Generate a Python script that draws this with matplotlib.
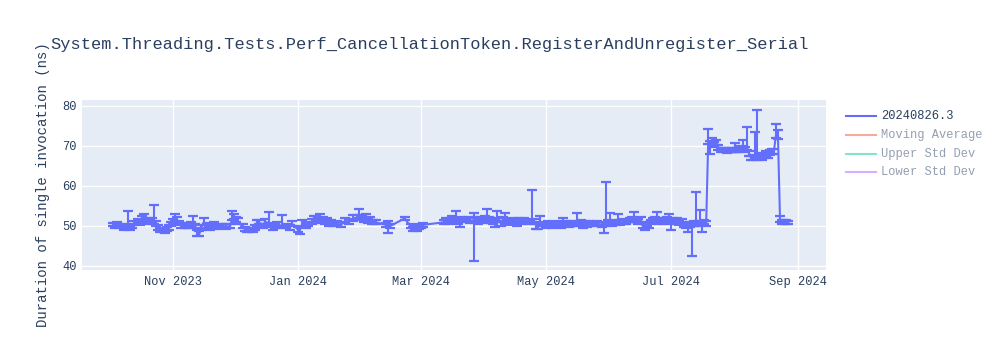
import matplotlib
matplotlib.use("Agg")
import matplotlib.pyplot as plt
from matplotlib.lines import Line2D
import numpy as np
import datetime as dt

title = "System.Threading.Tests.Perf_CancellationToken.RegisterAndUnregister_Serial"
ylabel = "Duration of single invocation (ns)"
legend_labels = ["20240826.3", "Moving Average", "Upper Std Dev", "Lower Std Dev"]
legend_colors = ["#636EFA", "#EF553B", "#00CC96", "#AB63FA"]
legend_visible = [True, False, False, False]

dates = [
 "2023-10-03","2023-10-04","2023-10-05","2023-10-06","2023-10-08","2023-10-09","2023-10-10","2023-10-11","2023-10-12","2023-10-13",
 "2023-10-15","2023-10-16","2023-10-17","2023-10-18","2023-10-20","2023-10-21","2023-10-22","2023-10-23","2023-10-24","2023-10-25",
 "2023-10-26","2023-10-27","2023-10-28","2023-10-29","2023-10-30","2023-10-31","2023-11-01","2023-11-02","2023-11-03","2023-11-04",
 "2023-11-05","2023-11-07","2023-11-08","2023-11-09","2023-11-10","2023-11-11","2023-11-12","2023-11-13","2023-11-14","2023-11-15",
 "2023-11-16","2023-11-17","2023-11-18","2023-11-19","2023-11-21","2023-11-22","2023-11-24","2023-11-25","2023-11-27","2023-11-29",
 "2023-11-30","2023-12-01","2023-12-02","2023-12-03","2023-12-05","2023-12-06","2023-12-07","2023-12-08","2023-12-10","2023-12-11",
 "2023-12-12","2023-12-13","2023-12-15","2023-12-16","2023-12-18","2023-12-19","2023-12-20","2023-12-21","2023-12-22","2023-12-24",
 "2023-12-26","2023-12-28","2023-12-29","2024-01-01","2024-01-02","2024-01-03","2024-01-05","2024-01-06","2024-01-08","2024-01-09",
 "2024-01-10","2024-01-11","2024-01-12","2024-01-13","2024-01-14","2024-01-15","2024-01-16","2024-01-17","2024-01-18","2024-01-20",
 "2024-01-22","2024-01-24","2024-01-26","2024-01-28","2024-01-30","2024-01-31","2024-02-01","2024-02-02","2024-02-03","2024-02-04",
 "2024-02-05","2024-02-06","2024-02-07","2024-02-08","2024-02-13","2024-02-14","2024-02-15","2024-02-22","2024-02-25","2024-02-26",
 "2024-02-27","2024-02-28","2024-02-29","2024-03-01","2024-03-02","2024-03-12","2024-03-13","2024-03-14","2024-03-15","2024-03-16",
 "2024-03-17","2024-03-18","2024-03-19","2024-03-20","2024-03-21","2024-03-22","2024-03-24","2024-03-25","2024-03-27","2024-03-28",
 "2024-03-29","2024-03-30","2024-03-31","2024-04-01","2024-04-02","2024-04-03","2024-04-04","2024-04-05","2024-04-06","2024-04-07",
 "2024-04-08","2024-04-09","2024-04-10","2024-04-11","2024-04-12","2024-04-13","2024-04-14","2024-04-15","2024-04-16","2024-04-17",
 "2024-04-18","2024-04-19","2024-04-20","2024-04-22","2024-04-24","2024-04-25","2024-04-26","2024-04-27","2024-04-28","2024-04-30",
 "2024-05-01","2024-05-02","2024-05-03","2024-05-04","2024-05-05","2024-05-06","2024-05-07","2024-05-08","2024-05-09","2024-05-10",
 "2024-05-11","2024-05-12","2024-05-13","2024-05-14","2024-05-16","2024-05-17","2024-05-18","2024-05-19","2024-05-20","2024-05-21",
 "2024-05-22","2024-05-24","2024-05-26","2024-05-28","2024-05-29","2024-05-30","2024-05-31","2024-06-01","2024-06-02","2024-06-03",
 "2024-06-04","2024-06-05","2024-06-06","2024-06-08","2024-06-09","2024-06-11","2024-06-12","2024-06-13","2024-06-14","2024-06-15",
 "2024-06-16","2024-06-17","2024-06-18","2024-06-19","2024-06-20","2024-06-21","2024-06-22","2024-06-23","2024-06-24","2024-06-25",
 "2024-06-26","2024-06-27","2024-06-28","2024-06-29","2024-06-30","2024-07-01","2024-07-02","2024-07-03","2024-07-04","2024-07-05",
 "2024-07-06","2024-07-07","2024-07-08","2024-07-09","2024-07-10","2024-07-11","2024-07-12","2024-07-13","2024-07-14","2024-07-15",
 "2024-07-16","2024-07-17","2024-07-18","2024-07-19","2024-07-20","2024-07-21","2024-07-22","2024-07-23","2024-07-24","2024-07-25",
 "2024-07-26","2024-07-27","2024-07-28","2024-07-29","2024-07-30","2024-07-31","2024-08-01","2024-08-02","2024-08-03","2024-08-04",
 "2024-08-05","2024-08-06","2024-08-07","2024-08-08","2024-08-09","2024-08-10","2024-08-11","2024-08-12","2024-08-13","2024-08-14",
 "2024-08-15","2024-08-16","2024-08-17","2024-08-18","2024-08-19","2024-08-20","2024-08-21","2024-08-22","2024-08-23","2024-08-24",
 "2024-08-25","2024-08-26","2024-08-27",
]

values = [
 50.2,50.0,50.4,50.1,49.6,49.9,50.3,49.5,49.8,50.6,
 51.0,50.7,51.2,51.5,51.3,51.0,51.4,51.0,50.5,49.5,
 48.8,48.9,48.6,49.2,49.5,50.3,51.0,51.8,51.5,50.6,
 50.0,49.8,50.0,49.8,50.4,51.0,49.8,48.2,48.0,49.5,
 50.8,49.6,50.0,49.5,50.2,49.6,49.8,50.0,49.7,49.9,
 52.0,52.3,51.5,51.0,49.8,49.2,48.8,49.0,48.8,49.5,
 50.3,50.8,50.0,51.0,50.5,50.2,49.5,49.8,50.2,50.0,
 49.8,49.5,50.5,49.0,49.2,50.2,49.8,50.3,51.0,51.5,
 51.7,51.2,51.8,51.5,50.8,51.2,50.5,51.0,50.3,50.5,
 50.2,51.2,51.0,51.8,52.0,52.2,52.0,51.5,52.2,51.2,
 51.5,50.8,51.0,50.8,50.2,49.5,49.9,51.8,49.8,49.2,
 49.6,49.2,49.7,50.0,50.2,50.8,51.2,51.0,51.4,51.6,
 51.2,51.5,51.0,50.8,51.5,51.3,51.6,51.2,51.3,51.5,
 51.0,51.6,51.2,51.8,52.2,51.5,51.2,51.0,50.8,51.8,
 51.3,50.5,51.5,51.3,50.8,51.0,50.6,51.2,51.0,50.5,
 51.3,51.0,51.2,50.8,51.3,51.0,50.2,49.8,50.6,50.3,
 50.0,50.5,50.2,50.0,50.4,50.2,50.6,50.0,50.4,50.3,
 50.6,50.2,50.5,50.3,50.8,50.5,50.9,50.3,50.6,50.2,
 50.5,50.3,50.5,50.2,49.5,50.5,50.8,51.0,50.5,50.8,
 50.6,51.0,50.7,51.0,50.8,51.3,51.5,51.6,51.3,51.0,
 51.5,50.0,49.8,50.3,50.0,50.8,51.2,51.5,51.3,51.0,
 51.4,50.9,51.2,51.5,51.0,50.2,51.2,50.8,51.3,50.6,
 51.0,50.2,50.0,49.8,50.2,49.5,50.5,50.8,50.5,50.3,
 50.2,50.8,50.5,71.0,70.5,71.2,70.2,70.8,69.5,69.0,
 68.8,69.0,68.7,68.9,68.8,69.0,68.9,68.8,69.0,69.2,
 69.2,69.0,69.5,68.0,66.8,67.0,67.5,67.0,67.5,67.0,
 67.3,68.0,67.5,68.2,68.5,68.5,72.5,72.2,51.5,51.0,
 50.8,50.9,50.7,
]

err_up = [
 0.5,0.6,0.5,0.4,0.5,0.6,3.4,0.5,0.6,0.6,
 0.7,0.6,1.2,1.4,0.6,0.7,0.6,4.1,0.6,0.6,
 0.6,0.5,0.5,0.5,0.6,0.6,0.7,1.0,0.6,0.6,
 0.6,0.5,0.6,0.5,0.6,1.4,0.6,0.6,0.6,0.6,
 1.1,0.5,0.6,0.5,0.6,0.5,0.6,0.5,0.6,0.6,
 1.7,0.6,0.6,1.0,0.6,0.5,0.5,0.5,0.5,0.6,
 1.2,0.6,0.5,0.6,3.0,0.5,0.6,0.5,0.6,2.7,
 0.5,0.6,0.6,0.6,0.6,1.3,0.6,0.6,0.6,0.8,
 0.6,0.6,1.1,0.6,0.6,0.6,0.6,0.5,0.6,0.6,
 0.6,0.7,0.6,0.9,0.6,1.9,0.6,0.6,0.6,0.6,
 0.6,0.6,0.5,0.5,0.5,1.6,0.5,0.4,0.5,0.5,
 0.5,0.5,0.5,0.5,0.5,0.6,0.6,0.6,0.6,0.7,
 0.6,2.2,0.6,0.6,0.6,0.6,0.6,0.6,1.9,0.6,
 0.6,0.6,0.6,0.6,1.9,0.6,0.6,0.6,0.6,1.9,
 0.6,0.6,0.6,1.9,0.6,0.6,0.6,0.6,0.6,0.6,
 0.6,0.6,0.6,0.6,7.6,0.6,0.6,0.6,1.9,0.6,
 0.6,0.6,0.6,0.6,0.6,0.6,0.6,0.6,1.6,0.6,
 0.6,0.6,0.6,0.6,2.4,0.6,0.6,0.6,0.6,0.6,
 0.6,0.6,0.6,0.6,0.6,10.5,0.6,2.1,0.6,0.6,
 0.6,1.9,0.6,0.6,0.6,0.6,0.7,1.9,0.6,0.6,
 0.6,0.6,0.6,0.6,0.6,0.6,0.6,0.6,2.0,0.6,
 0.6,0.6,0.6,0.6,2.0,0.6,0.6,0.6,0.6,0.6,
 0.6,0.6,0.6,0.6,0.6,0.6,0.6,7.6,0.6,3.6,
 0.6,0.6,0.6,3.1,0.6,0.8,0.6,0.6,0.6,0.5,
 0.5,0.5,0.5,0.5,0.5,0.5,1.8,0.5,0.5,0.6,
 2.2,0.6,5.2,0.6,0.6,0.6,5.8,12.0,0.6,0.6,
 0.6,0.6,0.6,0.6,0.6,0.6,2.8,1.6,0.8,0.5,
 0.5,0.4,0.4,
]

err_down = [
 0.4,0.5,0.5,0.6,0.6,0.7,0.8,0.6,0.5,0.5,
 0.6,0.5,0.6,0.7,0.5,0.6,0.5,0.6,0.5,0.5,
 0.5,0.5,0.4,0.5,0.5,0.5,0.6,0.6,0.5,0.5,
 0.5,0.5,0.5,0.5,0.5,0.6,0.5,0.9,0.6,0.5,
 0.6,0.5,0.5,0.5,0.5,0.5,0.5,0.5,0.5,0.5,
 0.6,0.6,0.5,0.6,0.5,0.5,0.5,0.6,0.5,0.5,
 0.5,0.5,0.5,0.6,0.6,0.5,0.5,0.5,0.5,0.5,
 0.5,0.5,0.5,0.6,1.2,0.5,0.5,0.5,0.5,0.6,
 0.6,0.5,0.6,0.5,0.5,0.5,0.5,0.5,0.5,0.5,
 0.5,0.5,0.5,0.6,0.6,0.6,0.6,0.6,0.6,0.5,
 0.5,0.5,0.5,0.5,0.5,1.3,0.6,0.5,0.5,0.5,
 0.5,0.5,0.5,0.5,0.5,0.5,0.5,0.5,0.6,0.6,
 0.5,0.6,0.6,1.1,0.5,0.5,0.5,0.5,10.1,0.5,
 0.5,0.5,0.5,0.5,0.6,0.5,0.5,0.6,1.2,0.6,
 0.5,0.5,0.5,0.5,0.5,0.5,0.5,0.5,0.5,0.5,
 0.5,0.5,0.5,0.5,0.5,0.5,1.0,0.6,0.5,0.5,
 0.5,0.5,0.5,0.5,0.5,0.5,0.5,0.5,0.5,0.5,
 0.5,0.5,0.5,0.5,0.5,0.5,0.6,0.9,0.5,0.5,
 0.5,0.5,0.5,0.5,1.4,0.6,0.5,0.6,0.5,0.5,
 0.5,0.5,0.5,0.5,0.5,0.5,0.6,0.6,0.5,0.5,
 0.5,0.6,0.9,0.5,0.5,0.5,0.5,0.5,0.5,0.5,
 0.5,0.5,0.5,0.5,0.6,1.3,0.5,0.5,0.5,0.5,
 0.5,0.5,0.5,1.3,0.5,7.0,0.5,0.6,0.5,0.5,
 1.7,0.5,0.6,0.6,2.5,0.6,0.5,0.6,0.5,0.5,
 0.5,0.4,0.5,0.4,0.5,0.5,0.5,0.5,0.5,0.5,
 0.6,0.5,0.6,0.6,0.5,0.5,0.5,0.6,0.5,0.5,
 0.5,0.5,0.5,0.5,0.5,0.5,0.6,0.6,0.6,0.5,
 0.4,0.5,0.4,
]

x_ticks = ["2023-11-01", "2024-01-01", "2024-03-01", "2024-05-01", "2024-07-01", "2024-09-01"]
x_tick_labels = ["Nov 2023", "Jan 2024", "Mar 2024", "May 2024", "Jul 2024", "Sep 2024"]
y_ticks = [40, 50, 60, 70, 80]
x_range = ["2023-09-17 18:00", "2024-09-14 10:00"]
y_range = [38.9, 81.4]

FONT = ["Liberation Mono", "DejaVu Sans Mono"]
TXT = "#2a3f5f"
plt.rcParams["font.family"] = FONT

def parse(s):
    fmt = "%Y-%m-%d %H:%M" if " " in s else "%Y-%m-%d"
    return dt.datetime.strptime(s, fmt)

xd = [parse(s) for s in dates]

fig = plt.figure(figsize=(10, 3.5), dpi=100)
fig.patch.set_facecolor("white")
ax = fig.add_axes([0.082, 80/350, 0.744, 170/350])
ax.set_facecolor("#E5ECF6")
for s in ax.spines.values():
    s.set_visible(False)

ax.errorbar(xd, values, yerr=[err_down, err_up], color="#636EFA", lw=1.5,
            elinewidth=1.5, capsize=3.4, capthick=1.6, zorder=3)

ax.set_xlim(parse(x_range[0]), parse(x_range[1]))
ax.set_ylim(*y_range)
ax.set_xticks([parse(s) for s in x_ticks])
ax.set_xticklabels(x_tick_labels)
ax.set_yticks(y_ticks)
ax.set_yticklabels([str(v) for v in y_ticks])
ax.grid(True, color="white", lw=1.0, zorder=0)
ax.set_axisbelow(True)
ax.tick_params(length=0, labelsize=8.64, labelcolor=TXT, pad=4)

fig.text(50/1000, 1 - 45/350, title, fontsize=12.24, color=TXT, ha="left", va="center")
fig.text(43/1000, 1 - 185/350, ylabel, fontsize=10.08, color=TXT, rotation=90,
         ha="center", va="center")

def blend(hexc, a):
    c = np.array(matplotlib.colors.to_rgb(hexc))
    return tuple(c * a + (1 - a))

leg_y = [116, 135, 153.5, 172]
for lab, col, vis, yy in zip(legend_labels, legend_colors, legend_visible, leg_y):
    a = 1.0 if vis else 0.5
    yf = 1 - yy/350
    fig.add_artist(Line2D([846/1000, 876/1000], [yf, yf], color=blend(col, a), lw=1.5,
                          transform=fig.transFigure))
    fig.text(881/1000, yf, lab, fontsize=8.64, color=blend(TXT, a), ha="left", va="center")

fig.savefig("out.png", dpi=100, facecolor="white")
